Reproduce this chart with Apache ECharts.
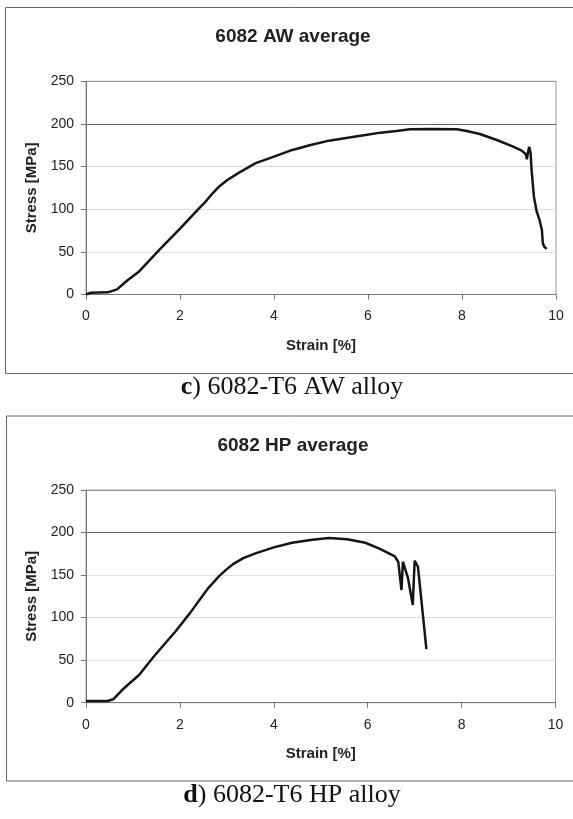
<!DOCTYPE html>
<html>
<head>
<meta charset="utf-8">
<style>
  html, body { margin: 0; padding: 0; background: #fff; }
  #chart { width: 573px; height: 819px; }
</style>
<script src="https://cdn.jsdelivr.net/npm/echarts@6/dist/echarts.min.js"></script>
</head>
<body>
<div id="chart"></div>
<script>
// 6082 AW average
var strainAW = [0, 0.1, 0.46, 0.66, 0.89, 1.13, 1.59, 1.98, 2.37, 2.53, 2.7, 2.84, 3.0, 3.23, 3.61, 4.0, 4.39, 4.78, 5.17, 5.6, 5.95,
  6.26, 6.61, 6.89, 7.32, 7.89, 8.1, 8.38, 8.74, 9.09, 9.27, 9.36, 9.38, 9.4, 9.43, 9.46, 9.48, 9.53, 9.59, 9.65, 9.7, 9.72, 9.75, 9.8]
var stressAW = [0, 2, 2.5, 6, 17, 27, 54, 76, 99, 108, 119, 127, 134, 142, 154, 161.6, 169.5, 175.3, 180.4, 184, 187,
  189.8, 191.7, 193.7, 194.1, 193.7, 191.7, 188.2, 181.2, 173.3, 168.7, 164.4, 158.5, 165.5, 173.3, 165.5, 146, 114.7, 97.1, 87.4, 75.6, 60, 56.1, 53.4]

// 6082 HP average
var strainHP = [0, 0.46, 0.58, 0.81, 1.13, 1.44, 1.9, 2.21, 2.6, 2.84, 3.0, 3.15, 3.35, 3.61, 4.0, 4.39, 4.78, 5.17, 5.56, 5.95,
  6.26, 6.57, 6.65, 6.72, 6.75, 6.86, 6.96, 7.0, 7.07, 7.18, 7.25]
var stressHP = [2, 2, 4, 17, 32.5, 54, 83.4, 105, 134.4, 149, 157, 163.5, 170, 175.5, 182.6, 188, 191.2, 193.5, 192, 188,
  180.8, 172.4, 165.7, 132.4, 165.7, 146, 114.8, 166.9, 159.8, 101, 63]

var xTicks = [0, 2, 4, 6, 8, 10]
var yTicks = [0, 50, 100, 150, 200, 250]

var titles = ['6082 AW average', '6082 HP average']
var captions = [['c)', ' 6082-T6 AW alloy'], ['d)', ' 6082-T6 HP alloy']]

var sans = 'Liberation Sans, Arial, sans-serif'
var serif = 'Liberation Serif, Times New Roman, serif'

function pairs(xs, ys) {
  return xs.map(function (x, i) { return [x, ys[i]] })
}

var grids = [
  { left: 86, top: 81.3, width: 470, height: 213.2 },
  { left: 86, top: 490, width: 469.5, height: 212.7 },
]
var offsets = [0, 408.5]

function xAxisFor(i) {
  return {
    type: 'value',
    gridIndex: i,
    min: xTicks[0],
    max: xTicks[xTicks.length - 1],
    interval: 2,
    name: 'Strain [%]',
    nameLocation: 'middle',
    nameGap: 44,
    nameTextStyle: { fontFamily: sans, fontSize: 15, fontWeight: 'bold', color: '#222' },
    axisLine: { show: true, lineStyle: { color: '#777', width: 1 } },
    axisTick: { show: true, inside: false, length: 5, lineStyle: { color: '#777' } },
    axisLabel: { fontFamily: sans, fontSize: 14, color: '#222', margin: 15 },
    splitLine: { show: false },
  }
}

function yAxisFor(i) {
  return {
    type: 'value',
    gridIndex: i,
    min: yTicks[0],
    max: yTicks[yTicks.length - 1],
    interval: 50,
    name: 'Stress [MPa]',
    nameLocation: 'middle',
    nameGap: 46,
    nameTextStyle: { fontFamily: sans, fontSize: 15, fontWeight: 'bold', color: '#222' },
    axisLine: { show: true, lineStyle: { color: '#777', width: 1 } },
    axisTick: { show: true, inside: false, length: 5, lineStyle: { color: '#777' } },
    axisLabel: { fontFamily: sans, fontSize: 14, color: '#222', margin: 12 },
    splitLine: {
      show: true,
      lineStyle: { color: ['#ddd', '#ddd', '#ddd', '#ddd', '#666', '#999'], width: 1 },
    },
  }
}

var graphic = []
offsets.forEach(function (dy, i) {
  graphic.push({
    type: 'rect',
    shape: { x: 5.5 + i, y: 7.5 + dy, width: 575, height: 366 - i },
    style: { fill: 'none', stroke: '#666', lineWidth: 1 },
    silent: true,
  })
  graphic.push({
    type: 'text',
    style: {
      x: 293, y: 37 + dy, text: titles[i], align: 'center', verticalAlign: 'middle',
      fontFamily: sans, fontSize: 19, fontWeight: 'bold', fill: '#222',
    },
  })
  graphic.push({
    type: 'text',
    style: {
      x: 292, y: 387 + dy, align: 'center', verticalAlign: 'middle',
      text: '{b|' + captions[i][0].charAt(0) + '}{r|' + captions[i][0].slice(1) + captions[i][1] + '}',
      rich: {
        b: { fontFamily: serif, fontSize: 26, fontWeight: 'bold', fill: '#111' },
        r: { fontFamily: serif, fontSize: 26, fill: '#111' },
      },
    },
  })
})

var chart = echarts.init(document.getElementById('chart'))
chart.setOption({
  animation: false,
  grid: grids.map(function (g) {
    return Object.assign({ show: true, borderColor: '#999', borderWidth: 1, backgroundColor: 'transparent' }, g)
  }),
  xAxis: [xAxisFor(0), xAxisFor(1)],
  yAxis: [yAxisFor(0), yAxisFor(1)],
  series: [
    {
      type: 'line', xAxisIndex: 0, yAxisIndex: 0, data: pairs(strainAW, stressAW),
      showSymbol: false, lineStyle: { color: '#151515', width: 2.5 }, z: 5,
    },
    {
      type: 'line', xAxisIndex: 1, yAxisIndex: 1, data: pairs(strainHP, stressHP),
      showSymbol: false, lineStyle: { color: '#151515', width: 2.5 }, z: 5,
    },
  ],
  graphic: graphic,
})
</script>
</body>
</html>
